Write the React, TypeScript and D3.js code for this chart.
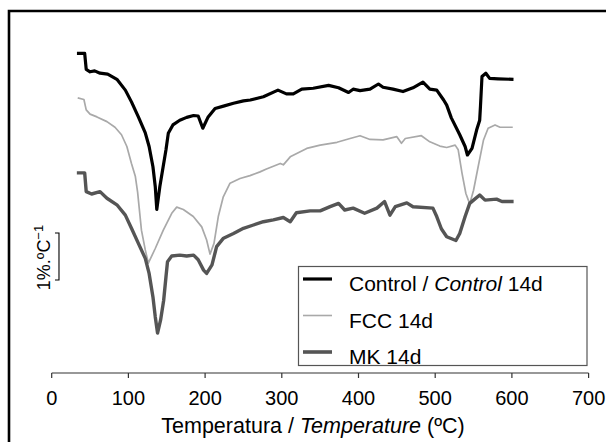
import React from "react";
import * as d3 from "d3";

const controlT = [35,43,45,50,56,63,73,85,96,104,113,122,127,132,135,137,141,149,152,158,167,176,185,191,197,204,213,224,237,250,259,276,295,306,315,326,341,361,374,387,393,402,415,426,432,445,458,471,484,493,502,511,515,521,532,539,542,548,554,558,559,561,566,571,582,600];
const controlV = [6.82,6.82,6.48,6.43,6.45,6.40,6.38,6.27,6.04,5.79,5.47,5.13,4.84,4.41,3.99,3.50,3.99,4.77,5.12,5.30,5.40,5.46,5.50,5.49,5.23,5.47,5.65,5.70,5.76,5.81,5.83,5.90,6.04,5.96,5.96,6.06,6.08,6.14,6.09,5.99,6.06,6.03,6.06,6.17,6.10,6.06,6.01,6.09,6.21,6.06,6.04,5.83,5.72,5.45,5.09,4.84,4.66,4.80,5.19,5.40,5.69,6.33,6.40,6.29,6.28,6.27];

const fccT = [35,42,45,50,59,72,82.5,91,98,104,109,112,117,122,126,135,145.5,156.5,163,171.6,184.6,195.6,202,206.4,211.6,217.2,223.7,232.5,245.5,258.5,271.6,280,298,302,311,332.5,350,372,389,402,415,432,450,456,461,482,493,506,515,526,530,535,540,545,550,556,563,569,578,584.5,600];
const fccV = [5.87,5.84,5.62,5.53,5.47,5.37,5.25,5.09,4.84,4.48,4.21,3.87,3.06,2.64,2.36,2.67,3.06,3.42,3.55,3.50,3.35,3.13,2.85,2.55,2.78,3.35,3.77,4.06,4.16,4.22,4.30,4.36,4.48,4.45,4.62,4.80,4.87,4.93,5.01,5.07,4.99,4.98,5.05,4.91,5.01,5.07,4.94,4.85,4.82,4.87,4.77,4.27,3.84,3.62,3.91,4.41,4.98,5.23,5.30,5.25,5.25];

const mkT = [35,43,45,52,63,72,85,96,104,113,122,127,132,135,138,142,146,149,151,156.5,167,176,185,191,198,202,209,215,224,237,250,263,276,289,302,311,319,337,350,363,374,382,393,408,424,434,441,448,463,471,497,502,508,515,527,532,539,545,550,558,565,580,587,600];
const mkV = [4.28,4.28,3.88,3.83,3.88,3.74,3.60,3.38,3.10,2.78,2.46,2.14,1.64,1.22,0.87,1.15,1.57,2.07,2.39,2.51,2.53,2.51,2.53,2.43,2.21,2.14,2.32,2.71,2.89,2.99,3.10,3.17,3.24,3.28,3.33,3.24,3.43,3.47,3.47,3.56,3.63,3.49,3.53,3.42,3.53,3.67,3.38,3.56,3.64,3.56,3.53,3.35,3.09,2.92,2.84,2.99,3.35,3.63,3.70,3.81,3.70,3.72,3.67,3.67];

const xTicks = [0,100,200,300,400,500,600,700];
const seriesNames = ["Control", "FCC 14d", "MK 14d"];
const scaleBarRange = [2, 3];
const scaleBarT = 9.5;

const FONT = "'Liberation Sans', Arial, Helvetica, sans-serif";

export default function App() {
  const W = 606, H = 442;
  const x = d3.scaleLinear().domain([0, 700]).range([51.7, 588.6]);
  const y = d3.scaleLinear().domain([0, 8]).range([374, -2]);
  const line = d3.line<[number, number]>().x(d => x(d[0])).y(d => y(d[1]));

  const series = [
    { T: fccT, V: fccV, color: "#a9a9a9", width: 1.7 },
    { T: mkT, V: mkV, color: "#555555", width: 3.4 },
    { T: controlT, V: controlV, color: "#000000", width: 3.2 },
  ];

  const legendItems = [
    { color: "#000000", width: 3.2 },
    { color: "#a9a9a9", width: 1.6 },
    { color: "#555555", width: 3.6 },
  ];

  const axisY = y(0) - 1;
  const sbx = x(scaleBarT);
  const sb0 = y(scaleBarRange[0]);
  const sb1 = y(scaleBarRange[1]);

  return (
    <svg width={W} height={H} style={{ position: "absolute", left: 0, top: 0, display: "block" }} fontFamily={FONT}>
      <rect x={0} y={0} width={W} height={H} fill="#fff" />
      {/* frame (top and left edges visible) */}
      <path d={`M9,${H}V11H${W}`} fill="none" stroke="#000" strokeWidth={2.6} />

      {series.map((s, i) => (
        <path key={i} d={line(s.T.map((t, j) => [t, s.V[j]]))!} fill="none" stroke={s.color} strokeWidth={s.width} strokeLinejoin="round" strokeLinecap="square" />
      ))}

      {/* scale bar */}
      <path d={`M${sbx - 4},${sb1}H${sbx}V${sb0}H${sbx - 4}`} fill="none" stroke="#000" strokeWidth={1.1} />
      <text transform={`translate(${sbx - 9},${(sb0 + sb1) / 2 + 1}) rotate(-90)`} textAnchor="middle" fontSize={18} fill="#000">
        1%.ºC<tspan fontSize={13} dy={-7}>−1</tspan>
      </text>

      {/* x axis */}
      <line x1={x(0)} x2={x(700)} y1={axisY} y2={axisY} stroke="#333" strokeWidth={1.2} />
      {xTicks.map(t => (
        <g key={t}>
          <line x1={x(t)} x2={x(t)} y1={axisY} y2={axisY + 5} stroke="#333" strokeWidth={1.2} />
          <text x={x(t)} y={405} textAnchor="middle" fontSize={20} fill="#000">{t}</text>
        </g>
      ))}
      <text x={313} y={433} textAnchor="middle" fontSize={21.5} fill="#000">
        Temperatura / <tspan fontStyle="italic">Temperature</tspan> (ºC)
      </text>

      {/* legend */}
      <rect x={298.5} y={266.5} width={288.5} height={99} fill="#fff" stroke="#555" strokeWidth={1.2} />
      {legendItems.map((it, i) => {
        const ly = 279 + i * 36.5;
        return (
          <g key={i}>
            <line x1={303} x2={332} y1={ly} y2={ly} stroke={it.color} strokeWidth={it.width} />
            <text x={349} y={ly + 12} fontSize={21} fill="#000">
              {i === 0 ? (
                <>
                  {seriesNames[0]} / <tspan fontStyle="italic">{seriesNames[0]}</tspan> 14d
                </>
              ) : seriesNames[i]}
            </text>
          </g>
        );
      })}
    </svg>
  );
}
